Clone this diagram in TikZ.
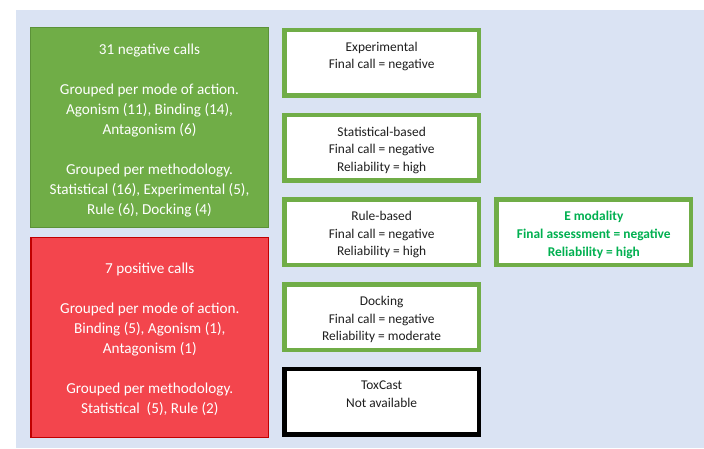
\documentclass[tikz,border=0pt]{standalone}
\usepackage{fontspec}
\setmainfont{Carlito}
\definecolor{bgblue}{HTML}{DAE3F3}
\definecolor{okgreen}{HTML}{70AD47}
\definecolor{okgreendark}{HTML}{5B9238}
\definecolor{posred}{HTML}{F3454D}
\definecolor{posreddark}{HTML}{C00000}
\definecolor{emgreen}{HTML}{00B050}
\definecolor{txtdark}{HTML}{1E1E1E}
\tikzset{
  bigbox/.style={minimum width=237.6pt, minimum height=199.8pt, inner sep=0pt, line width=1pt},
  negbox/.style={bigbox, fill=okgreen, draw=okgreendark},
  posbox/.style={bigbox, fill=posred, draw=posreddark, line width=1.5pt},
  resbox/.style={draw=okgreen, line width=4.5pt, fill=white, minimum width=194.3pt, minimum height=65.5pt, inner sep=0pt},
  naboxstyle/.style={resbox, draw=black},
  bigtext/.style={anchor=north, align=center, inner sep=0pt, text=white, font=\fontsize{15.2}{20}\selectfont},
  restext/.style={anchor=north, align=center, inner sep=0pt, text=txtdark, font=\fontsize{13.4}{17.6}\selectfont},
  emtext/.style={restext, text=emgreen, font=\fontsize{13.4}{17.6}\selectfont\bfseries}
}
\begin{document}
\begin{tikzpicture}[x=1pt,y=-1pt]
\useasboundingbox (0,0) rectangle (704,448);
\fill[bgblue] (16,10) rectangle (704,448);

% left summary boxes
\node[negbox] (neg) at (149.5,127.7) {};
\node[bigtext] (negtxt) at ([yshift=-16.5pt]neg.north) {31 negative calls\\[20pt]Grouped per mode of action.\\ Agonism (11), Binding (14),\\ Antagonism (6)\\[20pt]Grouped per methodology.\\Statistical (16), Experimental (5),\\Rule (6), Docking (4)};

\node[posbox] (pos) at (149.8,337.4) {};
\node[bigtext] (postxt) at ([yshift=-25.5pt]pos.north) {7 positive calls\\[20pt]Grouped per mode of action.\\Binding (5), Agonism (1),\\Antagonism (1)\\[20pt]Grouped per methodology.\\Statistical~ (5), Rule (2)};

% method boxes
\node[resbox] (exp) at (381.65,62.8) {};
\node[restext] (exptxt) at ([yshift=-14pt]exp.north) {Experimental\\Final call = negative};

\node[resbox] (stat) at (381.65,147.5) {};
\node[restext] (stattxt) at ([yshift=-14pt]stat.north) {Statistical-based\\Final call = negative\\Reliability = high};

\node[resbox] (rule) at (381.65,232.2) {};
\node[restext] (ruletxt) at ([yshift=-14pt]rule.north) {Rule-based\\Final call = negative\\Reliability = high};

\node[resbox] (dock) at (381.65,317) {};
\node[restext] (docktxt) at ([yshift=-14pt]dock.north) {Docking\\Final call = negative\\Reliability = moderate};

\node[naboxstyle] (tox) at (381.65,401.7) {};
\node[restext] (toxtxt) at ([yshift=-14pt]tox.north) {ToxCast\\Not available};

% overall assessment
\node[resbox] (emod) at (593.8,232.2) {};
\node[emtext] (emodtxt) at ([yshift=-14pt]emod.north) {E modality\\Final assessment = negative\\Reliability = high};
\end{tikzpicture}
\end{document}
